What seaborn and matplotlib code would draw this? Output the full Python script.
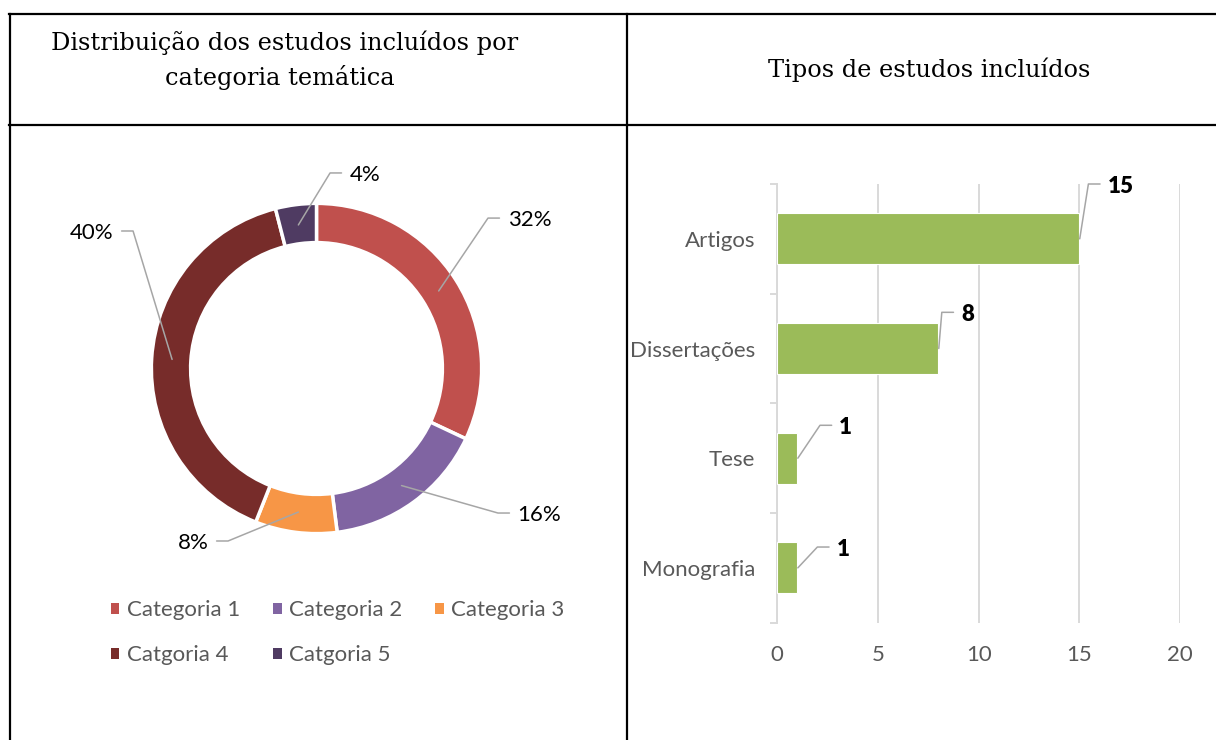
import matplotlib
matplotlib.use("Agg")
import matplotlib.pyplot as plt
import seaborn as sns
import numpy as np
import pandas as pd
from matplotlib.lines import Line2D
from matplotlib.transforms import Bbox, TransformedBbox

# ---------------- data ----------------
cat_names = ["Categoria 1", "Categoria 2", "Categoria 3", "Catgoria 4", "Catgoria 5"]
cat_pct = [32, 16, 8, 40, 4]
cat_colors = ["#C0504D", "#8064A2", "#F79646", "#772C2A", "#4F3B62"]

study_types = ["Artigos", "Dissertações", "Tese", "Monografia"]
study_counts = [15, 8, 1, 1]
bar_color = "#9BBB59"

title_left_1 = "Distribuição dos estudos incluídos por"
title_left_2 = "categoria temática"
title_right = "Tipos de estudos incluídos"

# ---------------- layout ----------------
W, H = 1216, 740
sns.set_theme(style="white")
plt.rcParams["font.family"] = ["Lato", "DejaVu Sans"]
GRAY_TXT = "#595959"
LEADER = "#A6A6A6"
GRID = "#D9D9D9"
FS = 16
TFS = 17.3

fig = plt.figure(figsize=(W / 100, H / 100), dpi=100)


def fx(x):
    return x / W


def fy(y):
    return 1 - y / H


# table borders
for (x0, y0, x1, y1) in [(9, 14, W, 14), (9, 125, W, 125), (9.5, 14, 9.5, H), (627, 14, 627, H)]:
    fig.add_artist(Line2D([fx(x0), fx(x1)], [fy(y0), fy(y1)], transform=fig.transFigure,
                          color="black", lw=1.6, solid_capstyle="projecting"))

# header titles
clip = TransformedBbox(Bbox([[fx(9), fy(90)], [fx(627), fy(14)]]), fig.transFigure)
serif = ["DejaVu Serif"]
t1 = fig.text(fx(285), fy(50), title_left_1, ha="center", va="baseline", fontsize=TFS,
              family=serif, color="black")
t2 = fig.text(fx(279.5), fy(85), title_left_2, ha="center", va="baseline", fontsize=TFS,
              family=serif, color="black")
for t in (t1, t2):
    t.set_clip_box(clip)
    t.set_clip_on(True)
fig.text(fx(929.5), fy(77), title_right, ha="center", va="baseline", fontsize=TFS,
         family=serif, color="black")

# ---------------- donut ----------------
CX, CY, R, B = 316.5, 368.5, 163.5, 210
ax_d = fig.add_axes([fx(CX - B), fy(CY + B), 2 * B / W, 2 * B / H])
wedges, _ = ax_d.pie(cat_pct, colors=cat_colors, startangle=90, counterclock=False, radius=1.01,
                     wedgeprops=dict(width=0.24, edgecolor="white", linewidth=2.5))
ax_d.set_xlim(-B / R, B / R)
ax_d.set_ylim(-B / R, B / R)
ax_d.set_aspect("equal")
ax_d.axis("off")

# label leader layout (elbow x, elbow y, side)
donut_elbows = [(1.049, 0.920, 1), (1.110, -0.884, 1), (-0.541, -1.055, -1),
                (-1.122, 0.841, -1), (0.083, 1.196, 1)]
r_mid = 1 - 0.23 / 2
for w, pct, (ex, ey, side) in zip(wedges, cat_pct, donut_elbows):
    ang = np.deg2rad((w.theta1 + w.theta2) / 2)
    axp, ayp = r_mid * np.cos(ang), r_mid * np.sin(ang)
    endx = ex + side * 0.07
    ax_d.plot([axp, ex, endx], [ayp, ey, ey], color=LEADER, lw=1.1, clip_on=False)
    ax_d.text(endx + side * 0.05, ey - 0.01, f"{pct}%", ha="left" if side > 0 else "right",
              va="center", fontsize=FS, color="black")

# legend (row-major order)
order = [0, 3, 1, 4, 2]
leg = fig.legend([wedges[i] for i in order], [cat_names[i] for i in order], ncol=3,
                 loc="upper left", bbox_to_anchor=(fx(111), fy(600)), frameon=False,
                 fontsize=FS, handlelength=0.38, handleheight=0.38, handletextpad=0.32,
                 columnspacing=1.5, labelspacing=1.13, borderpad=0, borderaxespad=0)
for txt in leg.get_texts():
    txt.set_color(GRAY_TXT)
for h in leg.legend_handles:
    h.set_linewidth(0)

# ---------------- bar chart ----------------
X0, X1, Y0, Y1 = 777.3, 1180, 184, 622.7
ax_b = fig.add_axes([fx(X0), fy(Y1), (X1 - X0) / W, (Y1 - Y0) / H])
df = pd.DataFrame({"tipo": study_types, "n": study_counts})
sns.barplot(data=df, x="n", y="tipo", orient="h", color=bar_color, saturation=1, width=0.465,
            edgecolor="white", linewidth=0.8, ax=ax_b, zorder=3)
ax_b.set_xlim(0, 20)
ax_b.set_ylim(len(study_types) - 0.5, -0.5)
ax_b.set_xticks([0, 5, 10, 15, 20])
ax_b.set_xlabel("")
ax_b.set_ylabel("")
ax_b.grid(axis="x", color=GRID, lw=1.4)
ax_b.grid(axis="y", visible=False)
ax_b.set_axisbelow(True)
for s in ["top", "right", "bottom"]:
    ax_b.spines[s].set_visible(False)
ax_b.spines["left"].set_color(GRID)
ax_b.spines["left"].set_linewidth(1.4)
ax_b.set_yticks(np.arange(-0.5, len(study_types), 1.0), minor=True)
ax_b.tick_params(axis="y", which="minor", length=5, width=1.4, color=GRID, direction="out", left=True)
ax_b.tick_params(axis="y", which="major", length=0, pad=16, labelsize=FS, labelcolor=GRAY_TXT)
ax_b.tick_params(axis="x", which="major", length=0, pad=16, labelsize=FS, labelcolor=GRAY_TXT)

# value label leader layout (dx from bar end, dy)
bar_elbows = [(0.45, -0.50), (0.17, -0.33), (1.12, -0.30), (0.99, -0.19)]
for i, (v, (dx, dy)) in enumerate(zip(study_counts, bar_elbows)):
    ex, ey = v + dx, i + dy
    endx = ex + 0.58
    ax_b.plot([v + 0.02, ex, endx], [i, ey, ey], color=LEADER, lw=1.1, clip_on=False, zorder=5)
    ax_b.text(endx + 0.38, ey + 0.02, str(v), ha="left", va="center", fontsize=FS,
              fontweight="heavy", color="black", clip_on=False)

fig.savefig("out.png", dpi=100)
